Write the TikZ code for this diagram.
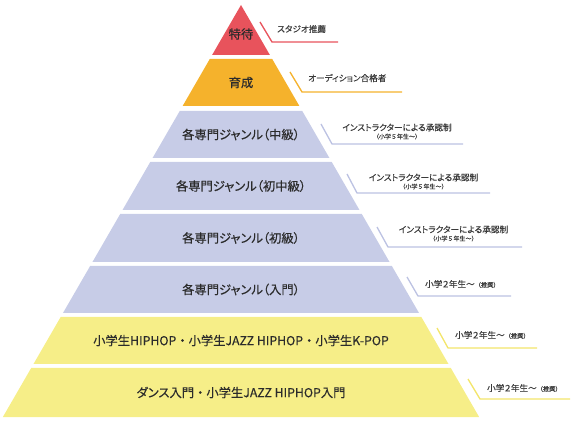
\documentclass[tikz,border=0pt]{standalone}
\usepackage{fontspec}
\setmainfont{Noto Sans CJK JP}
\newfontfamily\jpm[FakeBold=0.35,RawFeature=+palt]{Noto Sans CJK JP}
\newfontfamily\jpmn[FakeBold=0.35]{Noto Sans CJK JP}
\newfontfamily\jpl[FakeBold=0.25,RawFeature=+palt]{Noto Sans CJK JP}
\newfontfamily\jpln[FakeBold=0.25]{Noto Sans CJK JP}
\newcommand\nakaguro{{\jpmn ・}}
\newcommand\suisho{{\jpln\fontsize{6.2}{7}\selectfont（推奨）}}
\definecolor{cred}{HTML}{E8535C}
\definecolor{corange}{HTML}{F5B22C}
\definecolor{cblue}{HTML}{C7CCE7}
\definecolor{cyellow}{HTML}{F6EE88}
\definecolor{cblueline}{HTML}{BCC2E2}
\definecolor{cyellowline}{HTML}{F3E56A}
\definecolor{ctext}{HTML}{2B2B2B}
\definecolor{clabel}{HTML}{3A3A3A}
\newcommand\pyrlayer[5]{%
  \pgfmathsetmacro\xlt{241-0.578*(#2-5)}%
  \pgfmathsetmacro\xrt{241+0.578*(#2-5)}%
  \pgfmathsetmacro\xlb{241-0.578*(#3-5)}%
  \pgfmathsetmacro\xrb{241+0.578*(#3-5)}%
  \fill[#4] (\xlt,#2) -- (\xrt,#2) -- (\xrb,#3) -- (\xlb,#3) -- cycle;
  \node[maintext] (#1) at (241,{(#2+#3)/2}) {#5};%
}
\begin{document}
\begin{tikzpicture}[x=1pt,y=-1pt,
  maintext/.style={font=\jpm\fontsize{12.3}{13}\selectfont, text=ctext, inner sep=0pt},
  labeltext/.style={font=\jpl\fontsize{8.6}{9}\selectfont, text=clabel, inner sep=0pt},
  subtext/.style={font=\jpln\fontsize{6}{7}\selectfont, text=clabel, inner sep=0pt},
  callout/.style={line width=1.3pt}]
\useasboundingbox (0,0) rectangle (574,425);
% top triangle
\fill[cred] (241,5) -- (269.9,55) -- (212.1,55) -- cycle;
\node[maintext] (l1) at (241,34) {特待};
\pyrlayer{l2}{59}{106}{corange}{育成}
\pyrlayer{l3}{111}{158}{cblue}{各専門ジャンル（中級）}
\pyrlayer{l4}{162}{210}{cblue}{各専門ジャンル（初中級）}
\pyrlayer{l5}{214}{262}{cblue}{各専門ジャンル（初級）}
\pyrlayer{l6}{266}{313}{cblue}{各専門ジャンル（入門）}
\pyrlayer{l7}{317}{364}{cyellow}{小学生HIPHOP\nakaguro 小学生JAZZ HIPHOP\nakaguro 小学生K-POP}
\pyrlayer{l8}{368}{417}{cyellow}{ダンス入門\nakaguro 小学生JAZZ HIPHOP入門}
% callouts
\coordinate (a1) at (260,22); \coordinate (b1) at (272,42); \coordinate (c1) at (338,42);
\draw[callout,cred] (a1) -- (b1) -- (c1);
\node[labeltext,anchor=west] (t1) at (277,29) {スタジオ推薦};
\coordinate (a2) at (290,72); \coordinate (b2) at (302,92); \coordinate (c2) at (402,92);
\draw[callout,corange] (a2) -- (b2) -- (c2);
\node[labeltext,anchor=west] (t2) at (308,78) {オーディション合格者};
\coordinate (a3) at (321,124); \coordinate (b3) at (332,144); \coordinate (c3) at (463,144);
\draw[callout,cblueline] (a3) -- (b3) -- (c3);
\node[labeltext] (t3) at (397,127.5) {インストラクターによる承認制};
\node[subtext] (s3) at (397,136.5) {（小学５年生〜）};
\coordinate (a4) at (347,174); \coordinate (b4) at (357,193); \coordinate (c4) at (490,193);
\draw[callout,cblueline] (a4) -- (b4) -- (c4);
\node[labeltext] (t4) at (423.5,177.5) {インストラクターによる承認制};
\node[subtext] (s4) at (423.5,186.5) {（小学５年生〜）};
\coordinate (a5) at (377,227); \coordinate (b5) at (388,247); \coordinate (c5) at (522,247);
\draw[callout,cblueline] (a5) -- (b5) -- (c5);
\node[labeltext] (t5) at (453.5,229.5) {インストラクターによる承認制};
\node[subtext] (s5) at (453.5,238.5) {（小学５年生〜）};
\coordinate (a6) at (407,277); \coordinate (b6) at (418,296); \coordinate (c6) at (511,296);
\draw[callout,cblueline] (a6) -- (b6) -- (c6);
\node[labeltext,anchor=west] (t6) at (425,284) {小学２年生〜\suisho};
\coordinate (a7) at (437,328); \coordinate (b7) at (448,348); \coordinate (c7) at (537,348);
\draw[callout,cyellowline] (a7) -- (b7) -- (c7);
\node[labeltext,anchor=west] (t7) at (455,335) {小学２年生〜\suisho};
\coordinate (a8) at (468,379); \coordinate (b8) at (480,399); \coordinate (c8) at (570,399);
\draw[callout,cyellowline] (a8) -- (b8) -- (c8);
\node[labeltext,anchor=west] (t8) at (487,388) {小学２年生〜\suisho};
\end{tikzpicture}
\end{document}
